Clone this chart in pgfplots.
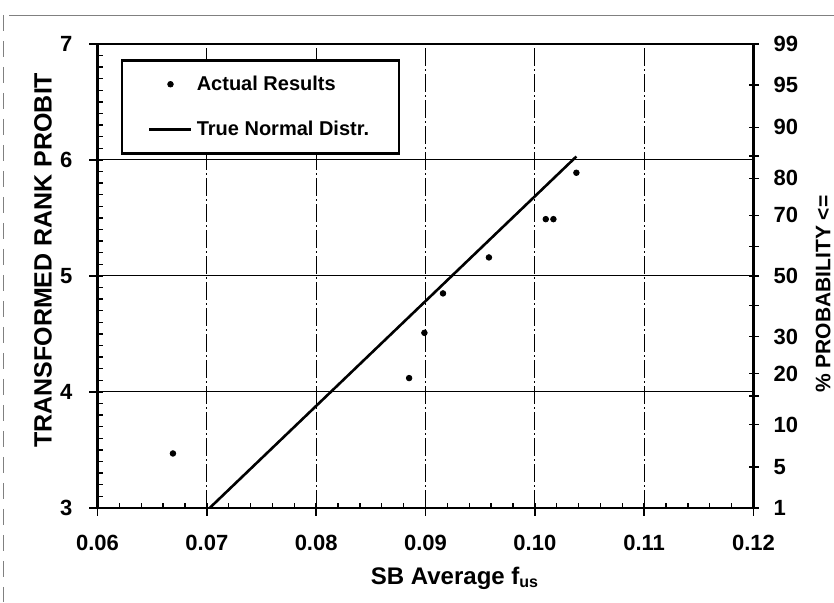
\documentclass[border=0pt]{standalone}
\usepackage{fontspec}
\setmainfont{Liberation Sans}
\usepackage{pgfplots}
\pgfplotsset{compat=1.18}
\pgfplotsset{
  marklegend/.style={legend image code/.code={\draw[mark repeat=2,mark phase=2,##1] plot coordinates {(0pt,0pt) (10.5pt,0pt) (21pt,0pt)};}},
  linelegend/.style={legend image code/.code={\draw[##1] (0pt,0pt) -- (21pt,0pt);}},
  common/.style={width=328pt,height=232pt,scale only axis,
    xmin=0.06,xmax=0.12,ymin=3,ymax=7,
    xtick={0.06,0.07,0.08,0.09,0.10,0.11,0.12},
    ytick={3,4,5,6,7}},
}
\begin{document}
\begin{tikzpicture}
\useasboundingbox (-48.75pt,-47.5pt) rectangle (368.25pt,254pt);
% main axis: grid, inner ticks, data
\begin{axis}[common,
  axis line style={line width=1.1pt},
  tick align=inside, xtick pos=bottom, ytick pos=left,
  major tick length=2.5pt, minor tick length=2.5pt,
  minor x tick num=4, minor y tick num=9,
  tick style={line width=0.7pt,black},
  xticklabels={}, yticklabels={},
  grid=major,
  x grid style={line width=0.5pt,black,dash pattern=on 9pt off 1.5pt on 1pt off 1.5pt},
  y grid style={line width=0.5pt,black},
  legend cell align=left,
  legend style={at={(0.0358,0.967)},anchor=north west,draw=black,line width=1.2pt,
    inner xsep=13pt,inner ysep=5.5pt,row sep=10pt,
    font=\fontsize{10}{12}\selectfont\bfseries},
]
\addplot[only marks,mark=*,mark size=1.4pt,black,line width=0.4pt,marklegend]
  coordinates {(0.0669,3.47) (0.0885,4.12) (0.0899,4.51) (0.0916,4.85) (0.0958,5.16) (0.1010,5.49) (0.1017,5.49) (0.1038,5.89)};
\addlegendentry{Actual Results}
\addplot[black,line width=1.3pt,no marks,linelegend]
  coordinates {(0.07026,3.0) (0.1038,6.03)};
\addlegendentry{True Normal Distr.}
\end{axis}
% outer ticks and labels for bottom and left
\begin{axis}[common,
  axis line style={draw=none},
  tick align=outside, xtick pos=bottom, ytick pos=left,
  major tick length=4pt,
  tick style={line width=0.7pt,black},
  xticklabels={0.06,0.07,0.08,0.09,0.10,0.11,0.12},
  yticklabels={3,4,5,6,7},
  ticklabel style={font=\fontsize{11}{13}\selectfont\bfseries},
  xticklabel style={yshift=-6pt},
  yticklabel style={xshift=-5pt},
  xlabel={\textbf{SB Average f\textsubscript{us}}},
  xlabel style={at={(axis description cs:0.545,-0.151)},anchor=center,font=\fontsize{12}{14}\selectfont},
  ylabel={\textbf{TRANSFORMED RANK PROBIT}},
  ylabel style={at={(axis description cs:-0.083,0.534)},anchor=center,font=\fontsize{12.5}{14}\selectfont},
]
\end{axis}
% right probability axis
\begin{axis}[common,
  axis x line=none, axis y line*=right,
  y axis line style={-,line width=1.1pt},
  tick align=center, major tick length=5pt,
  tick style={line width=0.7pt,black},
  ytick={3,3.355,3.718,3.964,4.158,4.476,4.747,5,5.253,5.524,5.842,6.036,6.282,6.645,7},
  yticklabels={1,5,10,,20,30,,50,,70,80,,90,95,99},
  yticklabel style={font=\fontsize{11}{13}\selectfont\bfseries,xshift=4pt},
  ylabel={\textbf{\% PROBABILITY <=}},
  ylabel style={at={(axis description cs:1.106,0.461)},anchor=center,font=\fontsize{10.5}{12}\selectfont},
]
\end{axis}
\draw[line width=0.4pt,gray] (-44pt,246.5pt) -- (368.25pt,246.5pt);
\draw[line width=0.4pt,gray,dash pattern=on 8pt off 5pt] (-47pt,246.5pt) -- (-47pt,-47pt);
\end{tikzpicture}
\end{document}
